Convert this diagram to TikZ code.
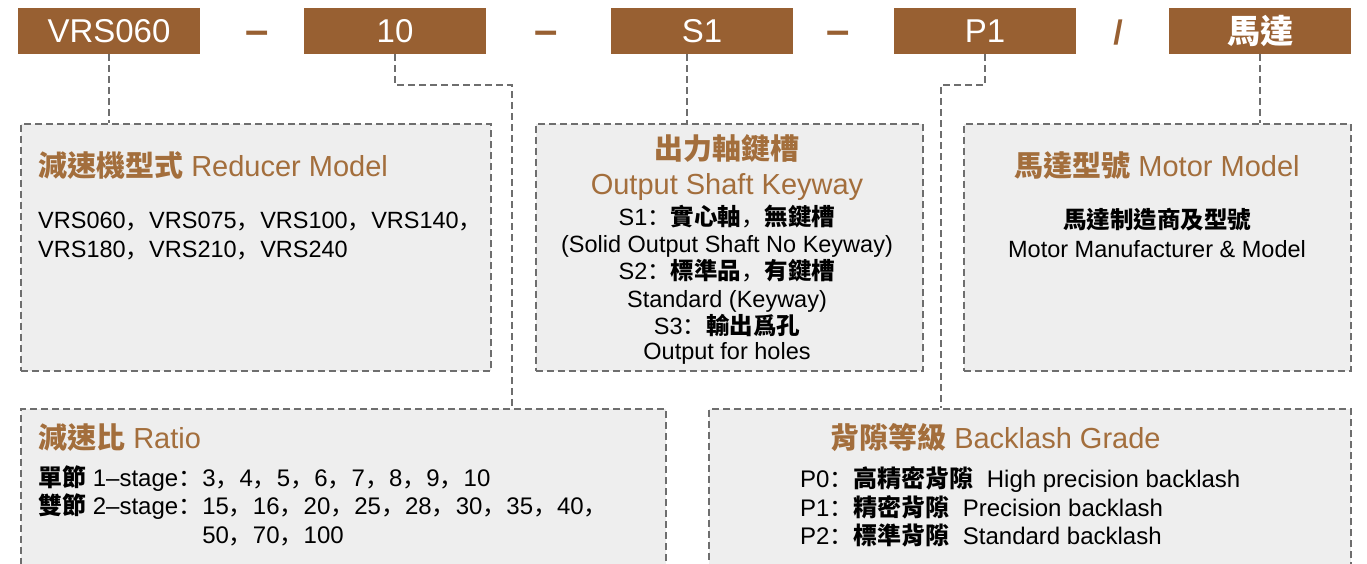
\documentclass[tikz,border=0pt]{standalone}
\usepackage{fontspec}
\setmainfont{Liberation Sans}
\newfontfamily\cjkfont{Noto Sans CJK TC}
\newfontfamily\scfont{Noto Sans CJK SC}
\usetikzlibrary{calc,positioning}
\definecolor{brun}{RGB}{152,96,50}
\definecolor{titrebrun}{RGB}{163,110,60}
\definecolor{fond}{RGB}{238,238,238}
\definecolor{trait}{RGB}{110,110,110}
\newcommand\zh[1]{{\cjkfont\bfseries #1}}
\newcommand\zhv{{\scfont ，}}
\newcommand\zhp{{\scfont ：}}

\begin{document}
\begin{tikzpicture}[x=1pt,y=-1pt,
		code/.style={fill=brun,text=white,minimum width=182pt,minimum height=46pt,inner sep=0pt,font=\fontsize{33}{33}\selectfont},
		sep/.style={text=brun,inner sep=0pt,anchor=base,font=\fontsize{42}{42}\selectfont\bfseries},
		cadre/.style={draw=trait,fill=fond,line width=1.6pt,dash pattern=on 7pt off 4pt,anchor=north west,inner sep=0pt},
		lien/.style={draw=trait,line width=1.6pt,dash pattern=on 7pt off 4pt},
		titre/.style={text=titrebrun,inner sep=0pt,font=\fontsize{29}{29}\selectfont},
		corps/.style={inner sep=0pt,font=\fontsize{23.5}{23.5}\selectfont}]
		\clip (0,0) rectangle (1367,563);
		\fill[white] (0,0) rectangle (1367,563);
		% cadres
		\node[cadre,minimum width=470pt,minimum height=247pt] (modele) at (20,123) {};
		\node[cadre,minimum width=387pt,minimum height=247pt] (clavette) at (535,123) {};
		\node[cadre,minimum width=387pt,minimum height=247pt] (typemoteur) at (963,123) {};
		\node[cadre,minimum width=645pt,minimum height=200pt] (reduction) at (20,408) {};
		\node[cadre,minimum width=642pt,minimum height=200pt] (backlash) at (708,408) {};
		% code
		\node[code] (vrs) at (109,31) {VRS060};
		\node[sep] (t1) at (257,44) {–};
		\node[code] (rapport) at (395,31) {10};
		\node[sep] (t2) at (546,44) {–};
		\node[code] (arbre) at (702,31) {S1};
		\node[sep] (t3) at (838,44) {–};
		\node[code] (jeu) at (985,31) {P1};
		\node[sep,font=\fontsize{34}{34}\selectfont\bfseries] (barre) at (1118,44) {/};
		\node[code] (moteur) at (1260,31) {\zh{馬達}};
		% liens
		\coordinate (jrapport) at (512,408);
		\coordinate (jjeu) at (941,408);
		\draw[lien] (vrs.south) -- (vrs.south |- modele.north);
		\draw[lien] (rapport.south) -- ++(0,31) -| (jrapport);
		\draw[lien] ([xshift=-15pt]arbre.south) -- ([xshift=-15pt]arbre.south |- clavette.north);
		\draw[lien] (jeu.south) -- ++(0,31) -| (jjeu);
		\draw[lien] (moteur.south) -- (moteur.south |- typemoteur.north);
		% textes
		\node[titre,anchor=base west] (mt) at (38,176) {\zh{減速機型式} Reducer Model};
		\node[corps,anchor=base west] (m1) at (38,228) {VRS060\zhv VRS075\zhv VRS100\zhv VRS140\zhv};
		\node[corps,anchor=base west] (m2) at (38,257) {VRS180\zhv VRS210\zhv VRS240};
		\node[titre,anchor=base] (ct1) at (727,159) {\zh{出力軸鍵槽}};
		\node[titre,anchor=base] (ct2) at (727,194) {Output Shaft Keyway};
		\node[corps,anchor=base] (c1) at (727,225) {S1\zhp\zh{實心軸}\zhv\zh{無鍵槽}};
		\node[corps,anchor=base] (c2) at (727,252) {(Solid Output Shaft No Keyway)};
		\node[corps,anchor=base] (c3) at (727,279) {S2\zhp\zh{標準品}\zhv\zh{有鍵槽}};
		\node[corps,anchor=base] (c4) at (727,307) {Standard (Keyway)};
		\node[corps,anchor=base] (c5) at (727,334) {S3\zhp\zh{輸出爲孔}};
		\node[corps,anchor=base] (c6) at (727,359) {Output for holes};
		\node[titre,anchor=base] (tt) at (1157,176) {\zh{馬達型號} Motor Model};
		\node[corps,anchor=base] (tm1) at (1157,228) {\zh{馬達制造商及型號}};
		\node[corps,anchor=base] (tm2) at (1157,257) {Motor Manufacturer \& Model};
		\node[titre,anchor=base west] (rt) at (38,448) {\zh{減速比} Ratio};
		\node[corps,anchor=base west,font=\fontsize{24}{24}\selectfont] (r1) at (38,486) {\zh{單節} 1–stage\zhp 3\zhv 4\zhv 5\zhv 6\zhv 7\zhv 8\zhv 9\zhv 10};
		\node[corps,anchor=base west,font=\fontsize{24}{24}\selectfont] (r2) at (38,514) {\zh{雙節} 2–stage\zhp 15\zhv 16\zhv 20\zhv 25\zhv 28\zhv 30\zhv 35\zhv 40\zhv};
		\node[corps,anchor=base west,font=\fontsize{24}{24}\selectfont] (r3) at (38,543) {\phantom{\zh{雙節} 2–stage\zhp}50\zhv 70\zhv 100};
		\node[titre,anchor=base west] (bt) at (830,448) {\zh{背隙等級} Backlash Grade};
		\node[corps,anchor=base west,font=\fontsize{24}{24}\selectfont] (b1) at (800,487) {P0\zhp\zh{高精密背隙}\ \ High precision backlash};
		\node[corps,anchor=base west,font=\fontsize{24}{24}\selectfont] (b2) at (800,516) {P1\zhp\zh{精密背隙}\ \ Precision backlash};
		\node[corps,anchor=base west,font=\fontsize{24}{24}\selectfont] (b3) at (800,544) {P2\zhp\zh{標準背隙}\ \ Standard backlash};
	\end{tikzpicture}
\end{document}
